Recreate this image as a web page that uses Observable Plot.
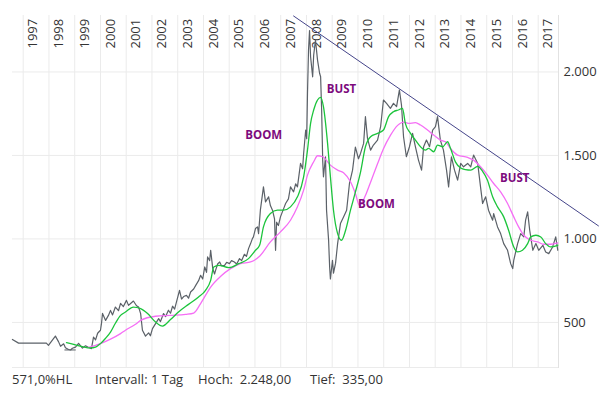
<!DOCTYPE html>
<html>
<head>
<meta charset="utf-8">
<script src="https://cdn.jsdelivr.net/npm/d3@7"></script>
<script src="https://cdn.jsdelivr.net/npm/@observablehq/plot@0.6"></script>
<style>
  html, body { margin: 0; padding: 0; background: #fff; }
  #wrap { position: relative; width: 607px; height: 396px; font-family: "Open Sans", sans-serif; }
  #foot span { position: absolute; top: 371px; font-size: 13px; line-height: 16px; color: #333; white-space: pre; }
</style>
</head>
<body>
<div id="wrap">
  <div id="chart"></div>
  <div id="foot"></div>
</div>
<script>
// ---- tick labels ----
const yearTicks = [1997, 1998, 1999, 2000, 2001, 2002, 2003, 2004, 2005, 2006, 2007, 2008, 2009, 2010, 2011, 2012, 2013, 2014, 2015, 2016, 2017];
const valueTicks = [500, 1000, 1500, 2000];

// ---- price series (decimal year, value) ----
const priceT = [1996.58,1996.82,1997.90,1997.98,1998.14,1998.25,1998.37,1998.45,1998.57,1998.64,1998.76,1998.84,1998.91,1999.03,1999.15,1999.30,1999.42,1999.54,1999.65,1999.73,1999.81,1999.89,2000.00,2000.04,2000.08,2000.20,2000.31,2000.39,2000.47,2000.58,2000.70,2000.78,2000.89,2001.01,2001.09,2001.17,2001.28,2001.40,2001.48,2001.56,2001.63,2001.75,2001.87,2001.94,2002.02,2002.14,2002.26,2002.33,2002.45,2002.53,2002.64,2002.72,2002.80,2002.88,2002.95,2003.07,2003.15,2003.23,2003.34,2003.42,2003.50,2003.62,2003.70,2003.81,2003.89,2003.97,2004.05,2004.12,2004.16,2004.24,2004.28,2004.36,2004.43,2004.47,2004.55,2004.63,2004.70,2004.82,2004.90,2005.01,2005.09,2005.20,2005.29,2005.40,2005.48,2005.59,2005.67,2005.75,2005.83,2005.90,2005.94,2006.02,2006.10,2006.14,2006.21,2006.33,2006.41,2006.53,2006.60,2006.68,2006.76,2006.80,2006.84,2006.91,2006.99,2007.11,2007.19,2007.30,2007.38,2007.50,2007.58,2007.65,2007.77,2007.85,2007.89,2007.97,2008.01,2008.04,2008.08,2008.12,2008.16,2008.24,2008.28,2008.35,2008.43,2008.51,2008.55,2008.59,2008.63,2008.66,2008.74,2008.78,2008.86,2008.90,2008.93,2009.01,2009.05,2009.13,2009.21,2009.32,2009.44,2009.56,2009.67,2009.79,2009.90,2010.02,2010.10,2010.22,2010.29,2010.37,2010.49,2010.60,2010.76,2010.88,2010.99,2011.11,2011.26,2011.38,2011.50,2011.61,2011.69,2011.77,2011.88,2012.00,2012.12,2012.23,2012.35,2012.47,2012.55,2012.66,2012.78,2012.90,2013.01,2013.09,2013.20,2013.32,2013.44,2013.52,2013.63,2013.75,2013.87,2013.99,2014.10,2014.26,2014.38,2014.49,2014.65,2014.76,2014.84,2014.96,2015.07,2015.23,2015.27,2015.42,2015.54,2015.66,2015.81,2015.93,2016.01,2016.05,2016.20,2016.32,2016.44,2016.51,2016.59,2016.67,2016.79,2016.91,2017.02,2017.18,2017.29,2017.41,2017.56,2017.68,2017.76];
const priceV = [398,376,376,363,395,418,385,357,372,348,338,335,345,352,375,346,360,350,343,412,395,435,453,494,554,512,542,572,545,592,570,614,595,632,602,613,628,600,592,553,453,418,437,420,463,493,523,505,553,535,573,555,597,580,622,692,640,655,662,645,682,700,722,750,782,760,832,800,892,870,932,824,790,812,850,862,840,842,860,852,870,862,850,882,870,908,895,942,972,1002,1012,1062,1072,1032,1172,1312,1222,1252,1200,1172,1120,932,1100,1080,1132,1180,1212,1240,1312,1282,1330,1312,1452,1420,1512,1652,1600,1872,2131,2248,2091,1971,2100,2191,2071,1992,1971,1771,1472,1372,1492,1172,992,832,760,872,795,855,972,1092,1132,1172,1332,1412,1550,1480,1512,1572,1732,1602,1532,1562,1592,1672,1832,1812,1782,1812,1792,1892,1802,1612,1492,1552,1632,1552,1472,1412,1552,1592,1552,1652,1672,1732,1592,1532,1412,1312,1492,1412,1352,1452,1432,1452,1432,1502,1452,1312,1212,1252,1172,1112,1152,1072,1032,972,932,852,822,872,972,1032,1012,1112,1162,1052,932,972,932,962,922,912,952,1012,932];

// ---- fast average (green) ----
const greenT = [1998.68,1999.03,1999.30,1999.61,1999.81,2000.00,2000.20,2000.39,2000.58,2000.78,2000.97,2001.28,2001.56,2001.83,2002.14,2002.41,2002.72,2003.03,2003.42,2003.81,2004.08,2004.28,2004.40,2004.59,2004.98,2005.37,2005.75,2006.02,2006.18,2006.33,2006.60,2006.87,2007.11,2007.38,2007.65,2007.89,2008.04,2008.16,2008.28,2008.43,2008.55,2008.66,2008.82,2008.93,2009.05,2009.21,2009.36,2009.52,2009.71,2009.90,2010.10,2010.29,2010.49,2010.76,2010.99,2011.19,2011.38,2011.57,2011.73,2011.84,2012.04,2012.23,2012.43,2012.62,2012.74,2012.94,2013.09,2013.29,2013.48,2013.60,2013.79,2013.99,2014.18,2014.38,2014.65,2014.84,2015.03,2015.23,2015.42,2015.66,2015.85,2016.05,2016.20,2016.39,2016.59,2016.71,2016.91,2017.10,2017.29,2017.48,2017.76];
const greenV = [379,365,355,347,352,373,405,442,495,542,562,592,583,553,502,478,517,562,608,652,692,752,832,842,828,852,882,932,962,1072,1152,1172,1172,1192,1252,1372,1532,1692,1772,1832,1848,1792,1572,1372,1172,1032,992,1052,1172,1280,1400,1552,1612,1632,1652,1732,1762,1772,1782,1692,1632,1592,1552,1532,1542,1522,1562,1552,1582,1540,1460,1425,1415,1412,1435,1405,1352,1252,1192,1132,1052,952,922,932,972,1012,1022,1012,972,952,962];

// ---- slow average (magenta) ----
const pinkT = [1999.54,2000.00,2000.39,2000.78,2000.97,2001.36,2001.56,2002.14,2002.72,2003.31,2003.62,2003.89,2004.28,2004.67,2005.05,2005.44,2005.83,2006.18,2006.60,2006.99,2007.38,2007.65,2007.89,2008.04,2008.28,2008.43,2008.63,2008.93,2009.21,2009.44,2009.71,2009.90,2010.06,2010.29,2010.49,2010.76,2010.99,2011.26,2011.54,2011.77,2011.96,2012.23,2012.43,2012.70,2012.94,2013.20,2013.40,2013.60,2013.87,2014.26,2014.49,2014.76,2015.03,2015.27,2015.54,2015.81,2016.05,2016.24,2016.44,2016.71,2016.98,2017.21,2017.48,2017.76];
const pinkV = [350,373,400,433,453,489,512,537,542,548,556,613,712,776,822,852,862,896,982,1042,1112,1192,1292,1382,1462,1498,1492,1442,1412,1396,1342,1272,1200,1260,1340,1450,1540,1620,1680,1700,1692,1696,1682,1652,1622,1592,1582,1540,1502,1488,1472,1432,1382,1332,1282,1212,1132,1072,1022,992,982,968,968,976];

// ---- resistance trend line ----
const trendT = [2007.50, 2019.34];
const trendV = [2335, 1078];

// ---- low marker ----
const lowMarkT = [1998.62, 1999.06];
const lowMarkV = 335;

// ---- annotations ----
const noteText = ["BOOM", "BUST", "BOOM", "BUST"];
const noteT = [2006.34, 2009.36, 2010.72, 2016.09];
const noteV = [1620, 1895, 1205, 1362];

// ---- footer ----
const footerText = ["571,0%HL", "Intervall: 1 Tag", "Hoch:  2.248,00", "Tief:  335,00"];
const footerLeft = [12, 95, 198, 310];

const price = priceT.map((t, i) => ({t, v: priceV[i]}));
const green = greenT.map((t, i) => ({t, v: greenV[i]}));
const pink = pinkT.map((t, i) => ({t, v: pinkV[i]}));
const trend = trendT.map((t, i) => ({t, v: trendV[i]}));
const notes = noteText.map((s, i) => ({s, t: noteT[i], v: noteV[i]}));

const deFmt = d => d3.format(",")(d).replace(/,/g, ".");

const chart = Plot.plot({
  width: 607,
  height: 370,
  marginLeft: 12,
  marginRight: 49,
  marginTop: 15,
  marginBottom: 3,
  style: {fontFamily: "Open Sans", fontSize: "13px", color: "#333", background: "#fff"},
  x: {domain: [1996.584, 2017.788], axis: null},
  y: {domain: [230, 2338], axis: "right", ticks: valueTicks, tickFormat: deFmt, tickSize: 0, tickPadding: 5, label: null},
  marks: [
    Plot.ruleY(valueTicks, {stroke: "#ebebeb"}),
    Plot.ruleX(yearTicks, {stroke: "#ebebeb"}),
    Plot.frame({anchor: "bottom", stroke: "#ebebeb"}),
    Plot.frame({anchor: "right", stroke: "#e2e2e2"}),
    Plot.text(yearTicks, {x: d => d, text: d => String(d), frameAnchor: "top", rotate: -90, textAnchor: "start", dx: 5, dy: 33, fontSize: 13, fill: "#333", letterSpacing: "0.8px"}),
    Plot.ruleY([lowMarkV], {x1: lowMarkT[0], x2: lowMarkT[1], stroke: "#5b6168", strokeWidth: 1}),
    Plot.line(price, {x: "t", y: "v", stroke: "#5b6168", strokeWidth: 1.2}),
    Plot.line(pink, {x: "t", y: "v", stroke: "#f56ef5", strokeWidth: 1.3, curve: "monotone-x"}),
    Plot.line(green, {x: "t", y: "v", stroke: "#1cc43c", strokeWidth: 1.3, curve: "monotone-x"}),
    Plot.line(trend, {x: "t", y: "v", stroke: "#45458a", strokeWidth: 1}),
    Plot.text(notes, {x: "t", y: "v", text: "s", fill: "#7d0a7d", fontWeight: "bold", fontSize: 11.5, fontFamily: "Open Sans"})
  ]
});
document.getElementById("chart").appendChild(chart);

const foot = document.getElementById("foot");
footerText.forEach((s, i) => {
  const sp = document.createElement("span");
  sp.textContent = s;
  sp.style.left = footerLeft[i] + "px";
  foot.appendChild(sp);
});
</script>
</body>
</html>
